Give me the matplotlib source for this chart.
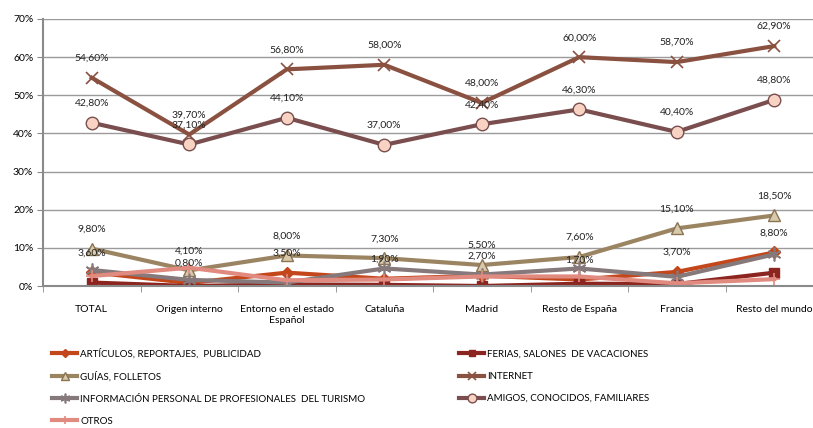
import numpy as np
import matplotlib
matplotlib.use("Agg")
import matplotlib.pyplot as plt

plt.rcParams['font.family'] = ['Lato', 'DejaVu Sans']

# Data (percent)
categories = ['TOTAL', 'Origen interno', 'Entorno en el estado\nEspañol', 'Cataluña',
              'Madrid', 'Resto de España', 'Francia', 'Resto del mundo']
articulos = [3.6, 0.8, 3.5, 1.9, 2.7, 1.7, 3.7, 8.8]
ferias = [0.9, 0.0, 0.4, 0.3, 0.0, 0.6, 0.5, 3.5]
guias = [9.8, 4.1, 8.0, 7.3, 5.5, 7.6, 15.1, 18.5]
internet = [54.6, 39.7, 56.8, 58.0, 48.0, 60.0, 58.7, 62.9]
info_prof = [4.2, 1.6, 0.9, 4.6, 3.0, 4.6, 2.4, 8.3]
amigos = [42.8, 37.1, 44.1, 37.0, 42.4, 46.3, 40.4, 48.8]
otros = [2.6, 4.8, 1.5, 1.7, 2.5, 2.5, 0.7, 1.8]

x = np.arange(len(categories))

fig = plt.figure(figsize=(8.13, 4.28), dpi=100)
ax = fig.add_axes([43/813, (428-286)/428, 780/813, 267/428])

lw = 3
series = [
    ('ARTÍCULOS, REPORTAJES,  PUBLICIDAD', articulos, dict(color='#C4461B', marker='D', ms=6, mfc='#C4461B', mec='#C4461B')),
    ('FERIAS, SALONES  DE VACACIONES', ferias, dict(color='#8C2520', marker='s', ms=7, mfc='#8C2520', mec='#8C2520')),
    ('GUÍAS, FOLLETOS', guias, dict(color='#9A8462', marker='^', ms=9, mfc='#D8C9AC', mec='#8A7452')),
    ('INTERNET', internet, dict(color='#8A5140', marker='x', ms=9, mew=1.2, mec='#8A5140')),
    ('INFORMACIÓN PERSONAL DE PROFESIONALES  DEL TURISMO', info_prof, dict(color='#86797B', marker=(6, 2, 0), ms=10, mew=1.2, mec='#86797B')),
    ('AMIGOS, CONOCIDOS, FAMILIARES', amigos, dict(color='#7A4E4E', marker='o', ms=9, mfc='#F8D3C3', mec='#7A4E4E', mew=1)),
    ('OTROS', otros, dict(color='#E08A80', marker='+', ms=9, mew=1.2, mec='#E08A80')),
]

handles = {}
for name, vals, style in series:
    h, = ax.plot(x, vals, lw=lw, label=name, **style)
    handles[name] = h

# data labels
for vals in [articulos, guias, internet, amigos]:
    for xi, v in zip(x, vals):
        ax.annotate(f'{v:.2f}%'.replace('.', ','), (xi, v), xytext=(0, 14),
                    textcoords='offset points', ha='center', va='center',
                    fontsize=7.5, color='#222222')

ax.set_xlim(-0.5, 7.5)
ax.set_ylim(0, 70)
ax.set_yticks(np.arange(0, 71, 10))
ax.set_yticklabels([f'{v}%' for v in range(0, 71, 10)], fontsize=7.5)
ax.yaxis.grid(True, color='#9A9A9A', lw=1)
ax.set_axisbelow(True)
ax.set_xticks(x)
ax.set_xticklabels(categories, fontsize=7.5)
ax.set_xticks(np.arange(-0.5, 8, 1), minor=True)
ax.tick_params(axis='x', which='major', length=0, pad=14)
ax.tick_params(axis='x', which='minor', length=4, color='#8A8A8A', direction='out')
ax.tick_params(axis='y', length=4, color='#8A8A8A', pad=3)
for s in ['top', 'right']:
    ax.spines[s].set_visible(False)
ax.spines['left'].set_color('#8A8A8A')
ax.spines['left'].set_linewidth(1.5)
ax.spines['bottom'].set_color('#8A8A8A')
ax.spines['bottom'].set_linewidth(1.5)

names = [s[0] for s in series]
col1 = [names[0], names[2], names[4], names[6]]
col2 = [names[1], names[3], names[5]]
leg_kw = dict(frameon=False, fontsize=7, handlelength=2.6, handletextpad=0.3,
              labelspacing=1.35, borderaxespad=0, loc='upper left', markerscale=0.7)
leg1 = fig.legend([handles[n] for n in col1], col1, bbox_to_anchor=(48/813, 1 - 344/428), **leg_kw)
leg2 = fig.legend([handles[n] for n in col2], col2, bbox_to_anchor=(455/813, 1 - 346/428), **leg_kw)

fig.savefig('out.png', dpi=100)
